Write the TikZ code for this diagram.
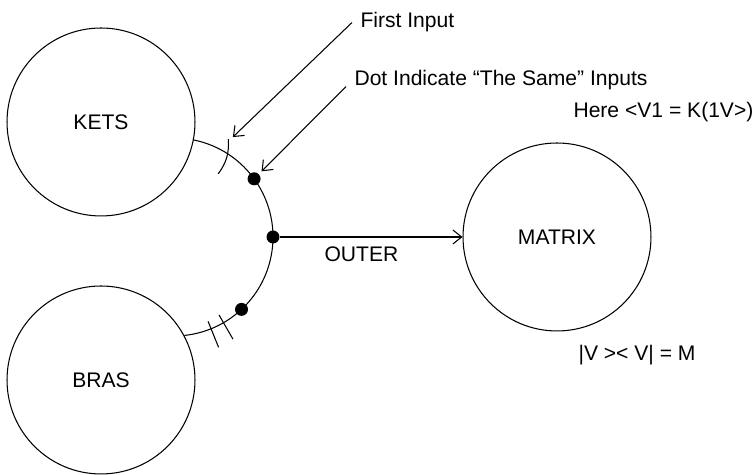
\documentclass[tikz,border=0pt]{standalone}
\usepackage{fontspec}
\setmainfont{Liberation Sans}
\usetikzlibrary{arrows.meta}
\newlength{\ballsize}
\setlength{\ballsize}{3.76cm}
\newlength{\dotsize}
\setlength{\dotsize}{0.26cm}
\def\hubradius{99}
\tikzset{
  ball/.style={circle, draw, minimum size=\ballsize, inner sep=0pt},
  dot/.style={circle, fill, minimum size=\dotsize, inner sep=0pt},
  note/.style={anchor=base west, inner sep=0pt},
}

\begin{document}
\begin{tikzpicture}[x=0.02cm, y=0.02cm, line width=0.6pt, font=\fontsize{12}{14}\selectfont, >={Straight Barb[length=5pt,width=8pt]}]
\useasboundingbox (0,0) rectangle (755,475);

\node[ball](kets) at (101,353) {KETS};
\node[ball](bras) at (101,95) {BRAS};
\node[ball](matrix) at (557,238) {MATRIX};

% arc joining kets and bras
\coordinate (hub) at (174,238);
\draw ([shift={(79:\hubradius)}]hub) arc[start angle=79, end angle=-84, radius=\hubradius];

\node[dot](d1) at ([shift={(36:\hubradius)}]hub) {};
\node[dot](d2) at ([shift={(0:\hubradius)}]hub) {};
\node[dot](d3) at ([shift={(-47:\hubradius)}]hub) {};

% input marks
\draw ([shift={(61:112)}]hub) to[bend left=20] ([shift={(55:77)}]hub);
\draw ([shift={(-68:91)}]hub) -- ([shift={(-68:119)}]hub);
\draw ([shift={(-60:90)}]hub) -- ([shift={(-60:118)}]hub);

\draw[->] (d2) -- (matrix);

\node[note](first) at (360,447) {First Input};
\node[note](same) at (354,389) {Dot Indicate “The Same” Inputs};
\node[note](here) at (573,357) {Here <V1 = K(1V>)};
\node[note](outer) at (324,213) {OUTER};
\node[note](product) at (578,114) {|V >< V| = M};

\draw[->] ([shift={(-8,0)}]first.west) -- ([shift={(59.5:116)}]hub);
\draw[->, shorten >=2pt] ([shift={(-8,-6)}]same.west) -- (d1);

\end{tikzpicture}
\end{document}
